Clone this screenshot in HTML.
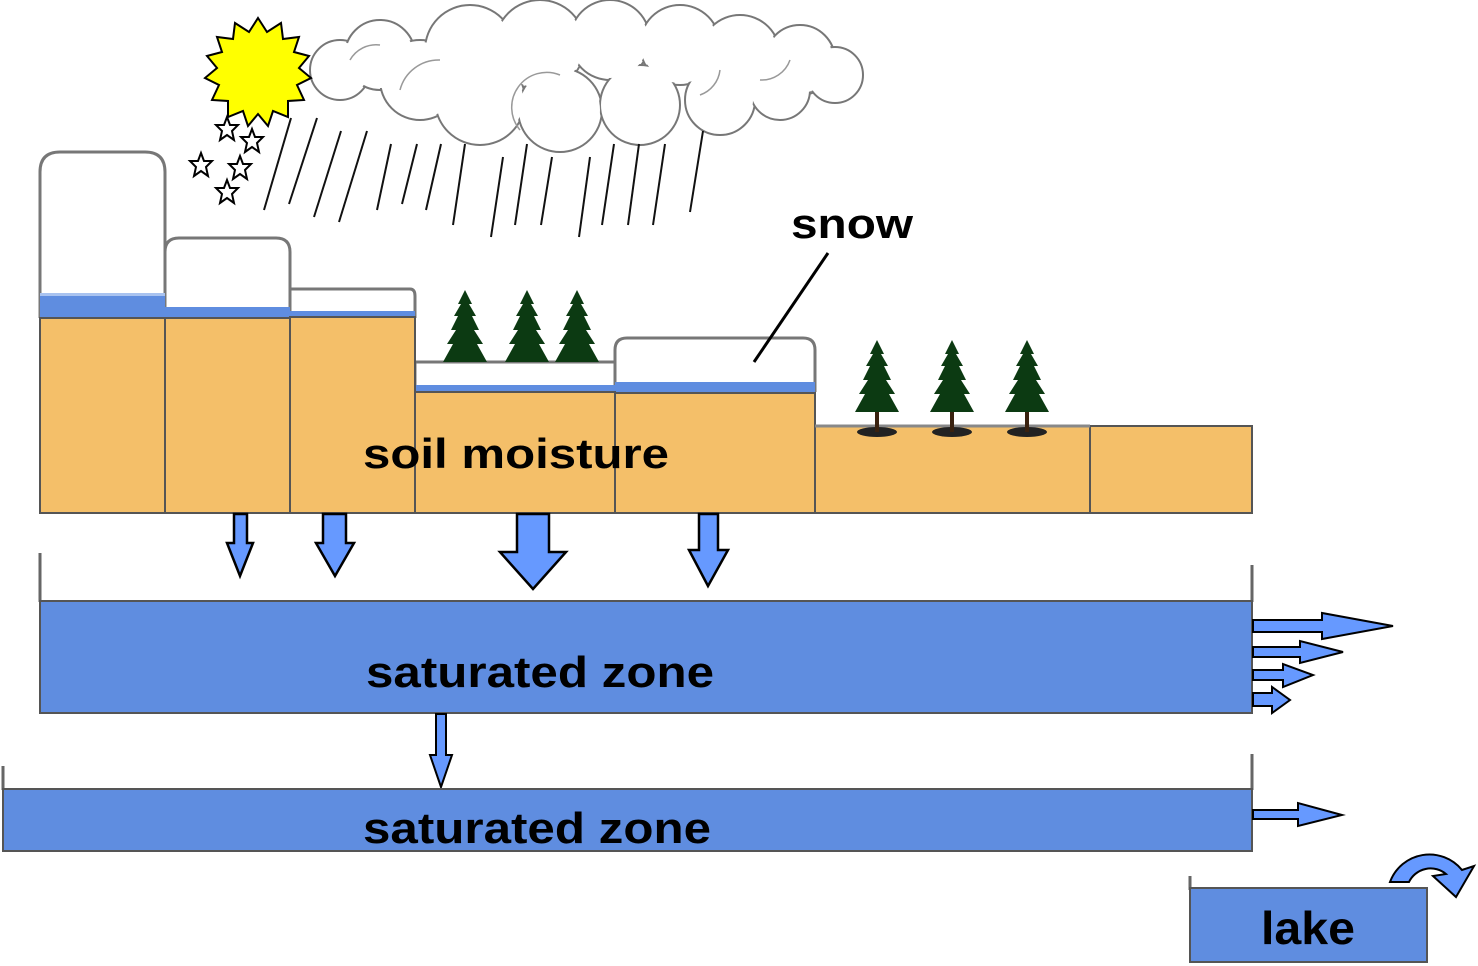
<!DOCTYPE html>
<html><head><meta charset="utf-8"><style>
html,body{margin:0;padding:0;background:#fff}
svg{display:block}
text{font-family:"Liberation Sans",sans-serif;font-weight:bold;fill:#000}
</style></head><body>
<svg width="1478" height="966" viewBox="0 0 1478 966" xmlns="http://www.w3.org/2000/svg">
<defs>
<g id="tree">
<ellipse cx="0" cy="92" rx="20" ry="5" fill="#222"/>
<rect x="-2" y="60" width="4" height="32" fill="#3a2210"/>
<polygon points="0,0 7,14 4,14 11,26 7,26 14,40 9,40 18,54 12,54 22,72 -22,72 -12,54 -18,54 -9,40 -14,40 -7,26 -11,26 -4,14 -7,14" fill="#0c3a12"/>
</g>
<g id="tree2">
<rect x="-2" y="55" width="4" height="17" fill="#3a2210"/>
<polygon points="0,0 7,14 4,14 11,26 7,26 14,40 9,40 18,54 12,54 22,72 -22,72 -12,54 -18,54 -9,40 -14,40 -7,26 -11,26 -4,14 -7,14" fill="#0c3a12"/>
</g>
<path id="st" d="M0,-12 L3,-4 L11,-4 L5,2 L7,11 L0,6 L-7,11 L-5,2 L-11,-4 L-3,-4 Z" fill="#fff" stroke="#000" stroke-width="2"/>
</defs>

<!-- cloud -->
<g stroke="#777" stroke-width="2" fill="#fff">
<circle cx="340" cy="70" r="30"/><circle cx="380" cy="55" r="35"/><circle cx="420" cy="80" r="40"/>
<circle cx="470" cy="50" r="45"/><circle cx="540" cy="45" r="45"/><circle cx="610" cy="40" r="40"/>
<circle cx="680" cy="45" r="40"/><circle cx="740" cy="55" r="40"/><circle cx="800" cy="60" r="35"/><circle cx="835" cy="75" r="28"/>
<circle cx="480" cy="100" r="45"/><circle cx="560" cy="110" r="42"/><circle cx="640" cy="105" r="40"/><circle cx="720" cy="100" r="35"/><circle cx="780" cy="90" r="30"/>
</g>
<g fill="#fff">
<circle cx="340" cy="70" r="28"/><circle cx="380" cy="55" r="33"/><circle cx="420" cy="80" r="38"/>
<circle cx="470" cy="50" r="43"/><circle cx="540" cy="45" r="43"/><circle cx="610" cy="40" r="38"/>
<circle cx="680" cy="45" r="38"/><circle cx="740" cy="55" r="38"/><circle cx="800" cy="60" r="33"/><circle cx="835" cy="75" r="26"/>
<circle cx="480" cy="100" r="43"/><circle cx="560" cy="110" r="40"/><circle cx="640" cy="105" r="38"/><circle cx="720" cy="100" r="33"/><circle cx="780" cy="90" r="28"/>
</g>
<g fill="none" stroke="#999" stroke-width="1.5">
<path d="M350,60 A30,30 0 0 1 380,45"/><path d="M400,90 A40,40 0 0 1 440,60"/>
<path d="M700,95 A30,30 0 0 0 720,70"/><path d="M760,80 A30,30 0 0 0 790,60"/>
<path d="M520,130 A35,35 0 0 1 560,75"/>
</g>

<!-- sun -->
<polygon fill="#ffff00" stroke="#000" stroke-width="2" points="
258,18 267,32 281,23 283,39 299,37 294,52 309,56 299,68 311,78 297,85 304,100 288,101 288,117 273,111 268,126 258,114 248,126 243,111 228,117 228,101 212,100 219,85 205,78 217,68 207,56 222,52 217,37 233,39 235,23 249,32"/>

<!-- stars -->
<use href="#st" x="227" y="129"/><use href="#st" x="252" y="141"/><use href="#st" x="201" y="165"/><use href="#st" x="240" y="168"/><use href="#st" x="227" y="192"/>

<!-- rain -->
<g stroke="#111" stroke-width="2">
<line x1="291" y1="118" x2="264" y2="210"/><line x1="317" y1="118" x2="289" y2="204"/>
<line x1="341" y1="131" x2="314" y2="217"/><line x1="367" y1="131" x2="339" y2="222"/>
<line x1="391" y1="144" x2="377" y2="210"/><line x1="417" y1="144" x2="402" y2="204"/>
<line x1="441" y1="144" x2="426" y2="210"/><line x1="465" y1="144" x2="453" y2="225"/>
<line x1="503" y1="157" x2="491" y2="237"/><line x1="527" y1="144" x2="515" y2="225"/>
<line x1="552" y1="157" x2="541" y2="225"/><line x1="590" y1="157" x2="579" y2="237"/>
<line x1="614" y1="144" x2="602" y2="225"/><line x1="639" y1="144" x2="628" y2="225"/>
<line x1="665" y1="144" x2="653" y2="225"/><line x1="703" y1="131" x2="690" y2="212"/>
</g>

<!-- snow columns -->
<g stroke="#777" stroke-width="3" fill="#fff">
<path d="M40,318 V172 Q40,152 60,152 H145 Q165,152 165,172 V318"/>
<path d="M165,318 V252 Q165,238 179,238 H276 Q290,238 290,252 V318"/>
<path d="M290,318 V289 H410 Q415,289 415,296 V318"/>
<path d="M415,392 V362 H615"/>
<path d="M615,392 V350 Q615,338 627,338 H803 Q815,338 815,350 V392"/>
</g>
<rect x="40" y="295" width="125" height="23" fill="#5f8de0"/>
<rect x="40" y="293" width="125" height="3" fill="#a9c3f0"/>
<rect x="165" y="307" width="125" height="11" fill="#5f8de0"/>
<rect x="290" y="311" width="125" height="6" fill="#5f8de0"/>
<rect x="415" y="385" width="200" height="7" fill="#5f8de0"/>
<rect x="615" y="382" width="200" height="11" fill="#5f8de0"/>

<!-- soil -->
<g fill="#f4bf69" stroke="#555" stroke-width="2">
<rect x="40" y="318" width="125" height="195"/>
<rect x="165" y="318" width="125" height="195"/>
<rect x="290" y="317" width="125" height="196"/>
<rect x="415" y="392" width="200" height="121"/>
<rect x="615" y="393" width="200" height="120"/>
<rect x="815" y="426" width="275" height="87"/>
<rect x="1090" y="426" width="162" height="87"/>
</g>
<line x1="815" y1="426" x2="1090" y2="426" stroke="#888" stroke-width="3"/>

<!-- trees -->
<use href="#tree2" x="465" y="290"/><use href="#tree2" x="527" y="290"/><use href="#tree2" x="577" y="290"/>
<use href="#tree" x="877" y="340"/><use href="#tree" x="952" y="340"/><use href="#tree" x="1027" y="340"/>

<!-- labels -->
<text x="852" y="238" font-size="42" text-anchor="middle" textLength="122" lengthAdjust="spacingAndGlyphs">snow</text>
<line x1="828" y1="253" x2="754" y2="362" stroke="#000" stroke-width="3"/>
<text x="516" y="468" font-size="42" text-anchor="middle" textLength="306" lengthAdjust="spacingAndGlyphs">soil moisture</text>

<!-- down arrows -->
<g fill="#6699ff" stroke="#000" stroke-width="2.5">
<polygon points="234,514 247,514 247,543 253,543 240,576 227,543 234,543"/>
<polygon points="323,514 346,514 346,543 354,543 335,576 316,543 323,543"/>
<polygon points="517,514 549,514 549,552 566,552 533,589 500,552 517,552"/>
<polygon points="699,514 718,514 718,550 728,550 708,586 689,550 699,550"/>
</g>

<!-- saturated zones -->
<line x1="40" y1="553" x2="40" y2="602" stroke="#666" stroke-width="3"/>
<line x1="1252" y1="565" x2="1252" y2="602" stroke="#666" stroke-width="3"/>
<rect x="40" y="601" width="1212" height="112" fill="#5f8de0" stroke="#555" stroke-width="2"/>
<text x="540" y="687" font-size="44" text-anchor="middle" textLength="348" lengthAdjust="spacingAndGlyphs">saturated zone</text>

<polygon points="436,714 446,714 446,755 452,755 441,787 430,755 436,755" fill="#6699ff" stroke="#000" stroke-width="2"/>

<line x1="3" y1="766" x2="3" y2="790" stroke="#666" stroke-width="3"/>
<line x1="1252" y1="754" x2="1252" y2="790" stroke="#666" stroke-width="3"/>
<rect x="3" y="789" width="1249" height="62" fill="#5f8de0" stroke="#555" stroke-width="2"/>
<text x="537" y="843" font-size="44" text-anchor="middle" textLength="348" lengthAdjust="spacingAndGlyphs">saturated zone</text>

<!-- right arrows -->
<g fill="#6699ff" stroke="#000" stroke-width="2">
<polygon points="1253,620 1322,620 1322,613 1393,626 1322,639 1322,632 1253,632"/>
<polygon points="1253,647 1300,647 1300,641 1343,652 1300,663 1300,657 1253,657"/>
<polygon points="1253,670 1283,670 1283,664 1313,675 1283,687 1283,680 1253,680"/>
<polygon points="1253,693 1272,693 1272,687 1290,700 1272,713 1272,706 1253,706"/>
<polygon points="1253,810 1298,810 1298,803 1342,815 1298,826 1298,819 1253,819"/>
</g>

<!-- lake -->
<line x1="1190" y1="876" x2="1190" y2="890" stroke="#666" stroke-width="3"/>
<rect x="1190" y="888" width="237" height="74" fill="#5f8de0" stroke="#555" stroke-width="2"/>
<text x="1308" y="944" font-size="46" text-anchor="middle" textLength="94" lengthAdjust="spacingAndGlyphs">lake</text>
<path d="M1390,882 A42,42 0 0 1 1462,870 L1474,866 L1456,897 L1433,876 L1446,874 A24,24 0 0 0 1409,882 Z" fill="#6699ff" stroke="#000" stroke-width="2"/>
</svg>
</body></html>
